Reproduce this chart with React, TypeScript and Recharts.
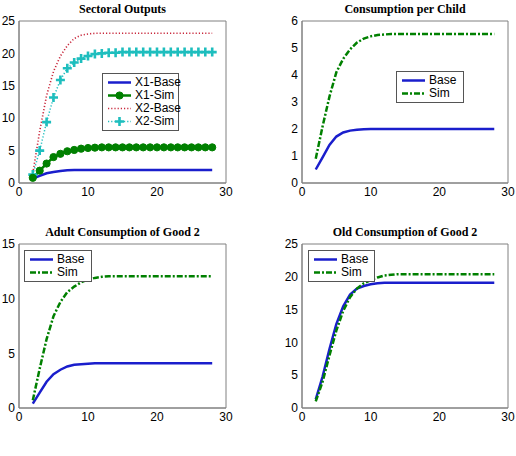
import React from "react";
import { Legend, Line, LineChart, XAxis, YAxis } from "recharts";

// periods 2..28
const periods = [2, 3, 4, 5, 6, 7, 8, 9, 10, 11, 12, 13, 14, 15, 16, 17, 18, 19, 20, 21, 22, 23, 24, 25, 26, 27, 28];

const x1Base = [0.7, 1.1, 1.5, 1.7, 1.85, 1.95, 2.0, 2.0, 2.0, 2.0, 2.0, 2.0, 2.0, 2.0, 2.0, 2.0, 2.0, 2.0, 2.0, 2.0, 2.0, 2.0, 2.0, 2.0, 2.0, 2.0, 2.0];
const x1Sim = [0.8, 1.9, 3.0, 4.0, 4.5, 4.9, 5.1, 5.3, 5.4, 5.45, 5.5, 5.5, 5.5, 5.5, 5.5, 5.5, 5.5, 5.5, 5.5, 5.5, 5.5, 5.5, 5.5, 5.5, 5.5, 5.5, 5.5];
const x2Base = [1.5, 8.0, 13.5, 17.2, 19.6, 21.2, 22.3, 22.8, 23.0, 23.1, 23.1, 23.1, 23.1, 23.1, 23.1, 23.1, 23.1, 23.1, 23.1, 23.1, 23.1, 23.1, 23.1, 23.1, 23.1, 23.1, 23.1];
const x2Sim = [1.3, 5.0, 9.4, 13.2, 15.9, 17.7, 18.6, 19.2, 19.6, 19.9, 20.0, 20.1, 20.1, 20.2, 20.2, 20.2, 20.2, 20.2, 20.2, 20.2, 20.2, 20.2, 20.2, 20.2, 20.2, 20.2, 20.2];

const childBase = [0.5, 0.95, 1.41, 1.72, 1.87, 1.94, 1.97, 1.99, 2.0, 2.0, 2.0, 2.0, 2.0, 2.0, 2.0, 2.0, 2.0, 2.0, 2.0, 2.0, 2.0, 2.0, 2.0, 2.0, 2.0, 2.0, 2.0];
const childSim = [0.9, 2.1, 3.2, 4.1, 4.6, 4.95, 5.2, 5.35, 5.43, 5.48, 5.5, 5.52, 5.52, 5.52, 5.52, 5.52, 5.52, 5.52, 5.52, 5.52, 5.52, 5.52, 5.52, 5.52, 5.52, 5.52, 5.52];

const adultBase = [0.4, 1.4, 2.4, 3.1, 3.5, 3.8, 3.95, 4.0, 4.05, 4.1, 4.1, 4.1, 4.1, 4.1, 4.1, 4.1, 4.1, 4.1, 4.1, 4.1, 4.1, 4.1, 4.1, 4.1, 4.1, 4.1, 4.1];
const adultSim = [0.7, 3.6, 6.3, 8.4, 9.7, 10.6, 11.1, 11.5, 11.75, 11.9, 12.0, 12.05, 12.05, 12.05, 12.05, 12.05, 12.05, 12.05, 12.05, 12.05, 12.05, 12.05, 12.05, 12.05, 12.05, 12.05, 12.05];

const oldBase = [1.3, 4.8, 9.0, 12.8, 15.5, 17.3, 18.2, 18.6, 18.85, 19.0, 19.1, 19.1, 19.1, 19.1, 19.1, 19.1, 19.1, 19.1, 19.1, 19.1, 19.1, 19.1, 19.1, 19.1, 19.1, 19.1, 19.1];
const oldSim = [1.0, 4.0, 8.0, 11.8, 14.8, 16.9, 18.2, 19.0, 19.5, 19.9, 20.2, 20.3, 20.4, 20.4, 20.4, 20.4, 20.4, 20.4, 20.4, 20.4, 20.4, 20.4, 20.4, 20.4, 20.4, 20.4, 20.4];

const xTicks = [0, 10, 20, 30];
const outputTicks = [0, 5, 10, 15, 20, 25];
const childTicks = [0, 1, 2, 3, 4, 5, 6];
const adultTicks = [0, 5, 10, 15];
const oldTicks = [0, 5, 10, 15, 20, 25];

const BLUE = "#1a1ecc";
const GREEN = "#008000";
const RED = "#c8283c";
const CYAN = "#1ebebe";
const AXIS = "#808080";

type Marker = "circle" | "plus" | undefined;

type SeriesDef = {
  key: string;
  name: string;
  values: number[];
  color: string;
  width: number;
  dash?: string;
  marker?: Marker;
};

const buildRows = (series: SeriesDef[]) =>
  periods.map((p, i) => {
    const row: Record<string, number> = { t: p };
    series.forEach((s) => {
      row[s.key] = s.values[i];
    });
    return row;
  });

function MarkerShape({ kind, cx, cy, color }: { kind: Marker; cx: number; cy: number; color: string }) {
  if (kind === "circle") return <circle cx={cx} cy={cy} r={3.6} fill={color} stroke={color} />;
  if (kind === "plus")
    return (
      <path
        d={`M${cx - 4.5},${cy}H${cx + 4.5}M${cx},${cy - 4.5}V${cy + 4.5}`}
        stroke={color}
        strokeWidth={2.6}
        fill="none"
      />
    );
  return null;
}

function LegendBox({ series, width }: { series: SeriesDef[]; width: number }) {
  return (
    <div
      style={{
        width,
        boxSizing: "border-box",
        border: "1px solid #555",
        background: "#fff",
        padding: "2px 0 2px 5px",
        fontSize: 12,
        lineHeight: "13px",
        color: "#000",
        whiteSpace: "nowrap",
      }}
    >
      {series.map((s) => (
        <div key={s.key} style={{ display: "flex", alignItems: "center", height: 13 }}>
          <svg width={23} height={13} style={{ marginRight: 4, flex: "none" }}>
            <line x1={0} y1={6.5} x2={23} y2={6.5} stroke={s.color} strokeWidth={s.width} strokeDasharray={s.dash} />
            <MarkerShape kind={s.marker} cx={11.5} cy={6.5} color={s.color} />
          </svg>
          <span>{s.name}</span>
        </div>
      ))}
    </div>
  );
}

type PanelProps = {
  title: string;
  left: number;
  top: number;
  height: number;
  yAxisWidth: number;
  margin: { top: number; right: number; bottom: number; left: number };
  yTicks: number[];
  series: SeriesDef[];
  legendOrder?: string[];
  legendAt: { left: number; top: number; width: number };
};

function Panel({ title, left, top, height, yAxisWidth, margin, yTicks, series, legendOrder, legendAt }: PanelProps) {
  const width = 258;
  const rows = buildRows(series);
  const yDomain = [yTicks[0], yTicks[yTicks.length - 1]];
  const plotLeft = margin.left + yAxisWidth;
  const plotWidth = width - plotLeft - margin.right;
  const tickStyle = { fill: "#000", fontSize: 12 };
  const legendSeries = legendOrder
    ? legendOrder.map((k) => series.find((s) => s.key === k) as SeriesDef)
    : series;

  return (
    <div style={{ position: "absolute", left, top, width, height }}>
      <div
        style={{
          position: "absolute",
          left: plotLeft,
          width: plotWidth,
          top: margin.top - 19,
          textAlign: "center",
          fontFamily: "'Liberation Serif', serif",
          fontWeight: "bold",
          fontSize: 12,
          lineHeight: "14px",
          whiteSpace: "nowrap",
        }}
      >
        {title}
      </div>
      <LineChart width={width} height={height} data={rows} margin={margin}>
        <XAxis
          dataKey="t"
          type="number"
          domain={[0, 30]}
          ticks={xTicks}
          height={30}
          tickLine={false}
          tickSize={0}
          tickMargin={4}
          stroke={AXIS}
          tick={tickStyle}
        />
        <XAxis xAxisId="inner" dataKey="t" type="number" domain={[0, 30]} ticks={xTicks} mirror tick={false} tickSize={3} stroke={AXIS} allowDataOverflow />
        <XAxis xAxisId="top" dataKey="t" type="number" orientation="top" domain={[0, 30]} ticks={xTicks} mirror tick={false} tickSize={3} stroke={AXIS} allowDataOverflow />
        <YAxis
          type="number"
          domain={yDomain}
          ticks={yTicks}
          width={yAxisWidth}
          tickLine={false}
          tickSize={0}
          tickMargin={4}
          stroke={AXIS}
          tick={tickStyle}
        />
        <YAxis yAxisId="inner" type="number" domain={yDomain} ticks={yTicks} mirror tick={false} tickSize={3} stroke={AXIS} allowDataOverflow />
        <YAxis yAxisId="right" type="number" orientation="right" domain={yDomain} ticks={yTicks} mirror tick={false} tickSize={3} stroke={AXIS} allowDataOverflow />
        <Legend
          layout="vertical"
          align="center"
          verticalAlign="middle"
          wrapperStyle={{ left: legendAt.left, top: legendAt.top }}
          content={() => <LegendBox series={legendSeries} width={legendAt.width} />}
        />
        {series.map((s) => (
          <Line
            key={s.key}
            type="linear"
            dataKey={s.key}
            name={s.name}
            stroke={s.color}
            strokeWidth={s.width}
            strokeDasharray={s.dash}
            dot={
              s.marker
                ? (p: any) => <MarkerShape key={`${s.key}-${p.index}`} kind={s.marker} cx={p.cx} cy={p.cy} color={s.color} />
                : false
            }
            activeDot={false}
            isAnimationActive={false}
          />
        ))}
      </LineChart>
    </div>
  );
}

// drawn back to front; the legend lists them in the X1, X2 order
const sectoralSeries: SeriesDef[] = [
  { key: "x2b", name: "X2-Base", values: x2Base, color: RED, width: 1.6, dash: "1.2 2" },
  { key: "x2s", name: "X2-Sim", values: x2Sim, color: CYAN, width: 1.5, dash: "1.2 2", marker: "plus" },
  { key: "x1s", name: "X1-Sim", values: x1Sim, color: GREEN, width: 2.5, marker: "circle" },
  { key: "x1b", name: "X1-Base", values: x1Base, color: BLUE, width: 2.5 },
];

const pair = (base: number[], sim: number[]): SeriesDef[] => [
  { key: "base", name: "Base", values: base, color: BLUE, width: 2.5 },
  { key: "sim", name: "Sim", values: sim, color: GREEN, width: 2.5, dash: "6 2 2 2" },
];

export default function App() {
  const childSeries = pair(childBase, childSim);
  const adultSeries = pair(adultBase, adultSim);
  const oldSeries = pair(oldBase, oldSim);

  return (
    <div
      style={{
        position: "absolute",
        left: 0,
        top: 0,
        width: 516,
        height: 456,
        background: "#fff",
        fontFamily: "'Liberation Sans', Arial, sans-serif",
      }}
    >
      <Panel
        title="Sectoral Outputs"
        left={0}
        top={0}
        height={225}
        yAxisWidth={19}
        margin={{ top: 21, right: 32, bottom: 12, left: 0 }}
        yTicks={outputTicks}
        series={sectoralSeries}
        legendOrder={["x1b", "x1s", "x2b", "x2s"]}
        legendAt={{ left: 102, top: 73, width: 77 }}
      />
      <Panel
        title="Consumption per Child"
        left={258}
        top={0}
        height={225}
        yAxisWidth={44}
        margin={{ top: 21, right: 8, bottom: 12, left: 0 }}
        yTicks={childTicks}
        series={childSeries}
        legendAt={{ left: 138, top: 71, width: 68 }}
      />
      <Panel
        title="Adult Consumption of Good 2"
        left={0}
        top={225}
        height={231}
        yAxisWidth={19}
        margin={{ top: 19, right: 32, bottom: 18, left: 0 }}
        yTicks={adultTicks}
        series={adultSeries}
        legendAt={{ left: 24, top: 25, width: 68 }}
      />
      <Panel
        title="Old Consumption of Good 2"
        left={258}
        top={225}
        height={231}
        yAxisWidth={44}
        margin={{ top: 19, right: 8, bottom: 18, left: 0 }}
        yTicks={oldTicks}
        series={oldSeries}
        legendAt={{ left: 50, top: 25, width: 67 }}
      />
    </div>
  );
}
